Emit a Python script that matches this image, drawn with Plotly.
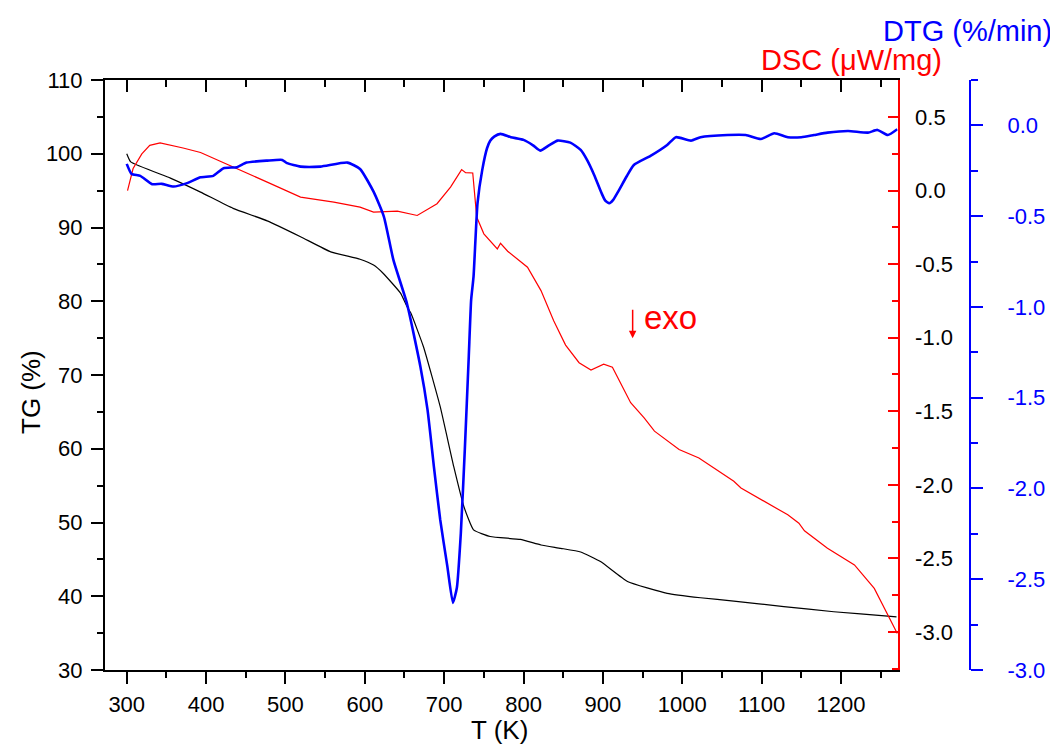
import plotly.graph_objects as go

# ---------------- data ----------------
tg_T = [300, 305, 355, 393, 434, 477, 519, 557, 594, 611, 623, 645, 653, 658, 674, 695,
        712, 725, 737, 758, 796, 822, 847, 872, 897, 931, 981, 1023, 1065, 1128, 1191, 1259, 1270]
tg_val = [100.0, 98.9, 96.7, 94.8, 92.6, 90.9, 88.75, 86.7, 85.7, 84.9, 83.8, 81.1, 79.3, 78.4,
          73.8, 65.7, 57.6, 52.1, 49.0, 48.1, 47.7, 46.95, 46.5, 46.0, 44.7, 42.0, 40.4, 39.8,
          39.35, 38.6, 37.9, 37.3, 37.2]

dsc_T = [301, 308, 319, 329, 342, 371, 393, 435, 477, 519, 561, 594, 611, 641, 666, 691, 708,
         722, 727, 736, 741, 750, 767, 771, 780, 805, 822, 838, 853, 870, 885, 901, 912, 935,
         952, 965, 996, 1021, 1036, 1065, 1074, 1099, 1133, 1147, 1154, 1183, 1217, 1242, 1259, 1271]
dsc_val = [0.00, 0.15, 0.25, 0.308, 0.324, 0.29, 0.259, 0.161, 0.058, -0.044, -0.078, -0.112,
           -0.146, -0.14, -0.169, -0.089, 0.024, 0.143, 0.122, 0.12, -0.18, -0.294, -0.396,
           -0.358, -0.412, -0.521, -0.68, -0.885, -1.05, -1.17, -1.22, -1.18, -1.20, -1.442,
           -1.545, -1.635, -1.76, -1.818, -1.874, -1.976, -2.022, -2.101, -2.204, -2.261,
           -2.313, -2.431, -2.545, -2.704, -2.886, -3.011]

dtg_T = [300, 306, 317, 332, 344, 359, 376, 393, 409, 422, 439, 451, 477, 496, 502, 519, 544,
         578, 594, 611, 624, 636, 653, 670, 679, 687, 695, 704, 711, 716, 721, 726, 731, 734,
         737, 742, 748, 754, 758, 763, 771, 784, 800, 812, 821, 832, 843, 859, 872, 880, 889,
         898, 903, 908, 913, 920, 930, 939, 960, 981, 992, 1011, 1023, 1057, 1080, 1099, 1116,
         1133, 1150, 1166, 1183, 1209, 1234, 1246, 1259, 1271]
dtg_val = [-0.212, -0.267, -0.278, -0.324, -0.322, -0.337, -0.318, -0.286, -0.278, -0.236,
           -0.23, -0.205, -0.194, -0.19, -0.208, -0.227, -0.227, -0.205, -0.24, -0.365, -0.502,
           -0.741, -0.98, -1.328, -1.566, -1.878, -2.172, -2.429, -2.63, -2.547, -2.245, -1.786,
           -1.273, -0.961, -0.833, -0.429, -0.245, -0.126, -0.085, -0.062, -0.047, -0.065,
           -0.08, -0.11, -0.139, -0.11, -0.084, -0.095, -0.135, -0.19, -0.273, -0.37, -0.415,
           -0.429, -0.41, -0.359, -0.28, -0.218, -0.168, -0.108, -0.065, -0.084, -0.065,
           -0.053, -0.053, -0.075, -0.043, -0.065, -0.065, -0.053, -0.04, -0.031, -0.04,
           -0.025, -0.053, -0.021]

x_ticks = [300, 400, 500, 600, 700, 800, 900, 1000, 1100, 1200]
tg_ticks = [30, 40, 50, 60, 70, 80, 90, 100, 110]
dsc_ticks = [0.5, 0.0, -0.5, -1.0, -1.5, -2.0, -2.5, -3.0]
dsc_labels = ["0.5", "0.0", "-0.5", "-1.0", "-1.5", "-2.0", "-2.5", "-3.0"]
dtg_ticks = [0.0, -0.5, -1.0, -1.5, -2.0, -2.5, -3.0]
dtg_labels = ["0.0", "-0.5", "-1.0", "-1.5", "-2.0", "-2.5", "-3.0"]

# ---------------- figure ----------------
FONT = "Liberation Sans, Arial, sans-serif"
OFF = 8                       # page body margin of the html page
W, H = 1058 - OFF, 744 - OFF
PL, PT = 105, 80              # plot-area left / top in page pixels
PLOT_W, PLOT_H = 792.7, 590
ML, MT = PL - OFF, PT - OFF
MR = 58
MB = H - MT - PLOT_H
pw = W - ML - MR
ph = PLOT_H
xdom_end = PLOT_W / pw
blue_pos = (970 - PL) / pw


def px(xp):
    return (xp - PL) / pw


def py(yp):
    return 1 - (yp - PT) / ph


fig = go.Figure()
fig.add_trace(go.Scatter(x=tg_T, y=tg_val, mode="lines",
                         line=dict(color="black", width=1.2, shape="spline", smoothing=0.4),
                         xaxis="x", yaxis="y", showlegend=False, hoverinfo="skip"))
fig.add_trace(go.Scatter(x=dsc_T, y=dsc_val, mode="lines", line=dict(color="red", width=1.2),
                         xaxis="x", yaxis="y2", showlegend=False, hoverinfo="skip"))
fig.add_trace(go.Scatter(x=dtg_T, y=dtg_val, mode="lines",
                         line=dict(color="blue", width=2.6, shape="spline", smoothing=0.5),
                         xaxis="x", yaxis="y3", showlegend=False, hoverinfo="skip"))
# dummy trace for the top (mirror) axis
fig.add_trace(go.Scatter(x=[None], y=[None], xaxis="x2", yaxis="y", showlegend=False,
                         hoverinfo="skip"))

tickfont = dict(family=FONT, size=22, color="black")

fig.update_layout(
    width=W, height=H,
    margin=dict(l=ML, r=MR, t=MT, b=MB, pad=0, autoexpand=False),
    plot_bgcolor="white", paper_bgcolor="white",
    font=dict(family=FONT, size=22, color="black"),
    showlegend=False,
    xaxis=dict(
        domain=[0, xdom_end], range=[272.6, 1271.5], anchor="y", automargin=False,
        tickmode="array", tickvals=x_ticks, ticktext=[str(v) for v in x_ticks],
        ticks="outside", ticklen=12, tickwidth=2, tickcolor="black",
        minor=dict(dtick=50, tick0=250, ticks="outside", ticklen=6, tickwidth=2, tickcolor="black"),
        showline=True, linecolor="black", linewidth=2, showgrid=False, zeroline=False,
        tickfont=tickfont, ticklabelstandoff=2,
    ),
    xaxis2=dict(
        domain=[0, xdom_end], range=[272.6, 1271.5], overlaying="x", side="top", anchor="y",
        automargin=False,
        tickmode="array", tickvals=x_ticks, showticklabels=False,
        ticks="inside", ticklen=12, tickwidth=2, tickcolor="black",
        minor=dict(dtick=50, tick0=250, ticks="inside", ticklen=7, tickwidth=2, tickcolor="black"),
        showline=True, linecolor="black", linewidth=2, showgrid=False, zeroline=False,
    ),
    yaxis=dict(
        range=[30, 110], anchor="x", automargin=False,
        tickmode="array", tickvals=tg_ticks, ticktext=[str(v) for v in tg_ticks],
        ticks="outside", ticklen=12, tickwidth=2, tickcolor="black",
        minor=dict(dtick=5, tick0=0, ticks="outside", ticklen=6, tickwidth=2, tickcolor="black"),
        showline=True, linecolor="black", linewidth=2, showgrid=False, zeroline=False,
        tickfont=tickfont, ticklabelstandoff=4,
    ),
    yaxis2=dict(
        range=[-3.259, 0.752], overlaying="y", side="right", anchor="x", automargin=False,
        tickmode="array", tickvals=dsc_ticks, ticktext=dsc_labels,
        ticks="inside", ticklen=10, tickwidth=2, tickcolor="red",
        minor=dict(dtick=0.25, tick0=0, ticks="inside", ticklen=6, tickwidth=2, tickcolor="red"),
        showline=True, linecolor="red", linewidth=2, showgrid=False, zeroline=False,
        tickfont=tickfont, ticklabelstandoff=11,
    ),
    yaxis3=dict(
        range=[-3.0, 0.25], overlaying="y", side="right", anchor="free", position=blue_pos,
        automargin=False,
        tickmode="array", tickvals=dtg_ticks, ticktext=dtg_labels,
        ticks="outside", ticklen=12, tickwidth=2, tickcolor="blue",
        minor=dict(dtick=0.25, tick0=0, ticks="outside", ticklen=7, tickwidth=2, tickcolor="blue"),
        showline=True, linecolor="blue", linewidth=2, showgrid=False, zeroline=False,
        tickfont=dict(family=FONT, size=22, color="blue"), ticklabelstandoff=20,
    ),
    annotations=[
        dict(text="T (K)", xref="paper", yref="paper", x=px(499), y=py(730),
             xanchor="center", yanchor="middle", showarrow=False,
             font=dict(family=FONT, size=26, color="black")),
        dict(text="TG (%)", xref="paper", yref="paper", x=px(31), y=py(392), textangle=-90,
             xanchor="center", yanchor="middle", showarrow=False,
             font=dict(family=FONT, size=26, color="black")),
        dict(text="DSC (μW/mg)", xref="paper", yref="paper", x=px(851), y=py(60),
             xanchor="center", yanchor="middle", showarrow=False,
             font=dict(family=FONT, size=29, color="red")),
        dict(text="DTG (%/min)", xref="paper", yref="paper", x=px(967), y=py(31),
             xanchor="center", yanchor="middle", showarrow=False,
             font=dict(family=FONT, size=29, color="blue")),
        dict(text="exo", xref="x", yref="y", x=985, y=77.8, xanchor="center", yanchor="middle",
             showarrow=False, font=dict(family=FONT, size=33, color="red")),
        dict(text="", xref="x", yref="y", x=937.5, y=75.0, ax=0, ay=-30,
             showarrow=True, arrowhead=2, arrowsize=1, arrowwidth=1.5, arrowcolor="red"),
    ],
)

fig.write_html("out.html")
